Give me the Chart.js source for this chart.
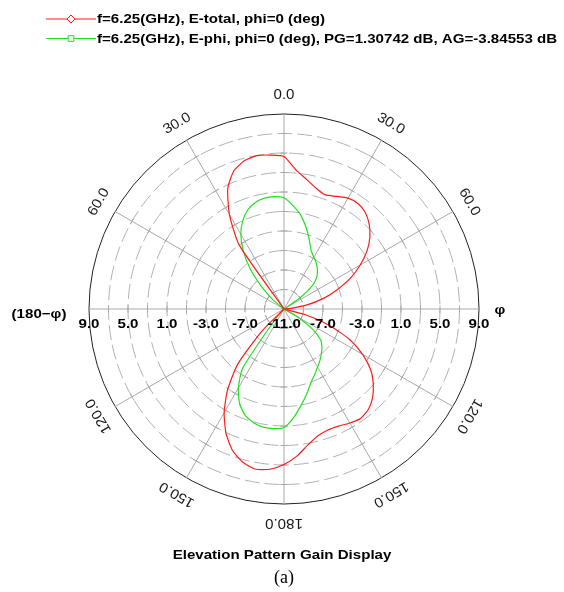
<!DOCTYPE html>
<html>
<head>
<meta charset="utf-8">
<script src="https://cdn.jsdelivr.net/npm/chart.js@4.4.1/dist/chart.umd.min.js"></script>
<style>
  html, body { margin: 0; padding: 0; background: #ffffff; }
  #wrap { width: 564px; height: 592px; }
</style>
</head>
<body>
<div id="wrap"><canvas id="c" width="564" height="592"></canvas></div>
<script>
// Elevation angle theta (deg), sampled every 5 degrees from zenith to nadir
const thetaDeg = [0, 5, 10, 15, 20, 25, 30, 35, 40, 45, 50, 55, 60, 65, 70, 75, 80, 85, 90,
                  95, 100, 105, 110, 115, 120, 125, 130, 135, 140, 145, 150, 155, 160, 165, 170, 175, 180];

// E-total gain (dB) in the phi = 0 half-plane and the phi = 180 half-plane
const totalPhi0 = [4.65, 3.3, 2.47, 1.8, 1.45, 1.75, 2.13, 2.22, 1.95, 1.35, 0.5, -0.6, -1.98, -3.45, -5.2, -6.8, -8.6, -10.3, -11,
                   -11, -11, -8.8, -6.0, -3.55, -1.7, -0.15, 0.95, 1.85, 2.45, 2.7, 2.5, 2.25, 2.2, 2.45, 3.15, 4.15, 4.95];
const totalPhi180 = [4.65, 4.85, 4.97, 4.74, 4.06, 2.64, 0.19, -3.0, -11, -11, -11, -11, -11, -11, -11, -11, -11, -11, -11,
                     -11, -11, -11, -11, -11, -11, -11, -11, -7.8, -3.65, -0.93, 1.28, 3.07, 4.44, 5.28, 5.69, 5.5, 4.95];

// E-phi gain (dB) in the phi = 0 and phi = 180 half-planes
const ephiPhi0 = [0.41, -0.35, -1.2, -2.3, -3.43, -4.4, -4.88, -5.24, -5.68, -6.2, -7.1, -8.9, -11, -11, -11, -11, -11, -11, -11,
                  -11, -11, -11, -11, -11, -9.6, -7.5, -6.1, -5.5, -5.04, -4.57, -4.12, -3.57, -2.95, -1.98, -0.96, 0.2, 1.15];
const ephiPhi180 = [0.41, 0.57, 0.55, 0.32, -0.17, -1.0, -2.15, -3.7, -5.6, -7.75, -9.5, -11, -11, -11, -11, -11, -11, -11, -11,
                    -11, -11, -11, -11, -11, -11, -11, -11, -11, -9.5, -3.63, -1.62, -0.25, 0.62, 1.07, 1.3, 1.31, 1.15];

// Gain axis (dB) and the values printed along the horizontal diameter
const gainMin = -11;
const gainMax = 9;
const gainStep = 2;
const gainTickLabels = [9, 5, 1, -3, -7, -11];

// Elevation angles printed around the rim (each appears on both half-planes)
const rimAngleLabels = [0, 30, 60, 120, 150, 180];

const seriesNames = [
  'f=6.25(GHz), E-total, phi=0 (deg)',
  'f=6.25(GHz), E-phi, phi=0 (deg), PG=1.30742 dB, AG=-3.84553 dB'
];

// Full circle, clockwise from the top: phi=0 side (theta 0..180), then phi=180 side (theta 175..5)
const circleLabels = thetaDeg.concat(thetaDeg.slice(1, thetaDeg.length - 1).reverse().map(t => 360 - t));
const wrap = (right, left) => right.concat(left.slice(1, left.length - 1).reverse());

const STEP_DEG = 5;
const SPOKE_EVERY = 30 / STEP_DEG;

const BOLD = 'bold 13px "Liberation Sans", Arial, sans-serif';
const WIDE = 1.16;   // the bold captions use a broad face

function wideText(ctx, text, x, y, sx) {
  ctx.save();
  ctx.translate(x, y);
  ctx.scale(sx, 1);
  ctx.fillText(text, 0, 0);
  ctx.restore();
}

const polarDecor = {
  id: 'polarDecor',
  beforeDatasetsDraw(chart) {
    const s = chart.scales.r;
    const ctx = chart.ctx;
    const n = chart.data.labels.length;
    ctx.save();
    ctx.strokeStyle = '#a9a9a9';
    ctx.lineWidth = 1;
    for (let i = 0; i < n; i += SPOKE_EVERY) {
      const a = s.getIndexAngle(i) - Math.PI / 2;
      const ux = Math.cos(a), uy = Math.sin(a);
      s.ticks.forEach(t => {
        if (t.value <= gainMin || t.value >= gainMax) return;
        const d = s.getDistanceFromCenterForValue(t.value);
        const cx = s.xCenter + ux * d, cy = s.yCenter + uy * d;
        ctx.beginPath();
        ctx.moveTo(cx - uy * 3.5, cy + ux * 3.5);
        ctx.lineTo(cx + uy * 3.5, cy - ux * 3.5);
        ctx.stroke();
      });
    }
    ctx.restore();
  },
  afterDraw(chart) {
    const s = chart.scales.r;
    const ctx = chart.ctx;
    const R = s.drawingArea;
    ctx.save();

    // rim angle labels, written tangentially
    ctx.fillStyle = '#1a1a1a';
    ctx.font = '14px "Liberation Sans", Arial, sans-serif';
    ctx.textAlign = 'center';
    ctx.textBaseline = 'middle';
    const sides = [];
    rimAngleLabels.forEach(t => {
      sides.push({ pos: t, text: t.toFixed(1) });
      if (t !== 0 && t !== 180) sides.push({ pos: 360 - t, text: t.toFixed(1) });
    });
    sides.forEach(item => {
      const idx = item.pos / STEP_DEG;
      const p = s.getPointPosition(idx, R + 19);
      ctx.save();
      ctx.translate(p.x, p.y);
      ctx.rotate(item.pos * Math.PI / 180);
      ctx.scale(1.08, 1);
      ctx.fillText(item.text, 0, 0);
      ctx.restore();
    });

    // gain values along the horizontal diameter
    ctx.font = BOLD;
    ctx.fillStyle = '#000000';
    const yLab = s.yCenter + 15;
    gainTickLabels.forEach(v => {
      const d = s.getDistanceFromCenterForValue(v);
      wideText(ctx, v.toFixed(1), s.xCenter - d, yLab, WIDE);
      if (d > 0) wideText(ctx, v.toFixed(1), s.xCenter + d, yLab, WIDE);
    });

    // half-plane captions
    wideText(ctx, '(180\u2212\u03C6)', s.xCenter - R - 50, s.yCenter + 5, WIDE);
    wideText(ctx, '\u03C6', s.xCenter + R + 21, s.yCenter + 1, WIDE);

    // legend
    ctx.textAlign = 'left';
    chart.data.datasets.forEach((ds, k) => {
      const y = 19 + k * 19.5;
      ctx.strokeStyle = ds.borderColor;
      ctx.lineWidth = 1.2;
      ctx.beginPath();
      ctx.moveTo(46, y);
      ctx.lineTo(96, y);
      ctx.stroke();
      ctx.fillStyle = '#ffffff';
      ctx.lineWidth = 1;
      Chart.helpers.drawPoint(ctx, { pointStyle: ds.legendMarker, radius: 4, rotation: 0, borderWidth: 1 }, 71, y);
      ctx.fillStyle = '#000000';
      wideText(ctx, ds.label, 97, y + 0.5, WIDE);
    });

    // captions below the plot
    ctx.textAlign = 'center';
    ctx.font = BOLD;
    wideText(ctx, 'Elevation Pattern Gain Display', 282, 555, WIDE);
    ctx.font = '18px "Liberation Serif", "Times New Roman", serif';
    ctx.fillText('(a)', 284, 578);
    ctx.restore();
  }
};

new Chart(document.getElementById('c'), {
  type: 'radar',
  data: {
    labels: circleLabels,
    datasets: [
      {
        label: seriesNames[0],
        data: wrap(totalPhi0, totalPhi180),
        borderColor: '#ff1a1a',
        borderWidth: 1.2,
        fill: false,
        pointRadius: 0,
        tension: 0.2,
        legendMarker: 'rectRot'
      },
      {
        label: seriesNames[1],
        data: wrap(ephiPhi0, ephiPhi180),
        borderColor: '#22e022',
        borderWidth: 1.2,
        fill: false,
        pointRadius: 0,
        tension: 0.2,
        legendMarker: 'rect'
      }
    ]
  },
  options: {
    responsive: false,
    animation: false,
    layout: { padding: { left: 89, right: 85, top: 114, bottom: 88 } },
    plugins: {
      legend: { display: false },
      tooltip: { enabled: false }
    },
    scales: {
      r: {
        min: gainMin,
        max: gainMax,
        startAngle: 0,
        ticks: { stepSize: gainStep, display: false },
        pointLabels: { display: false },
        grid: {
          circular: true,
          lineWidth: 1,
          color: ctx => (ctx.tick && ctx.tick.value >= gainMax) ? '#222222' : '#b2b2b2'
        },
        border: {
          dash: ctx => (ctx.tick && ctx.tick.value >= gainMax) ? [] : [15, 5]
        },
        angleLines: {
          lineWidth: 1,
          color: ctx => (ctx.index % SPOKE_EVERY === 0) ? '#a9a9a9' : ''
        }
      }
    }
  },
  plugins: [polarDecor]
});
</script>
</body>
</html>
